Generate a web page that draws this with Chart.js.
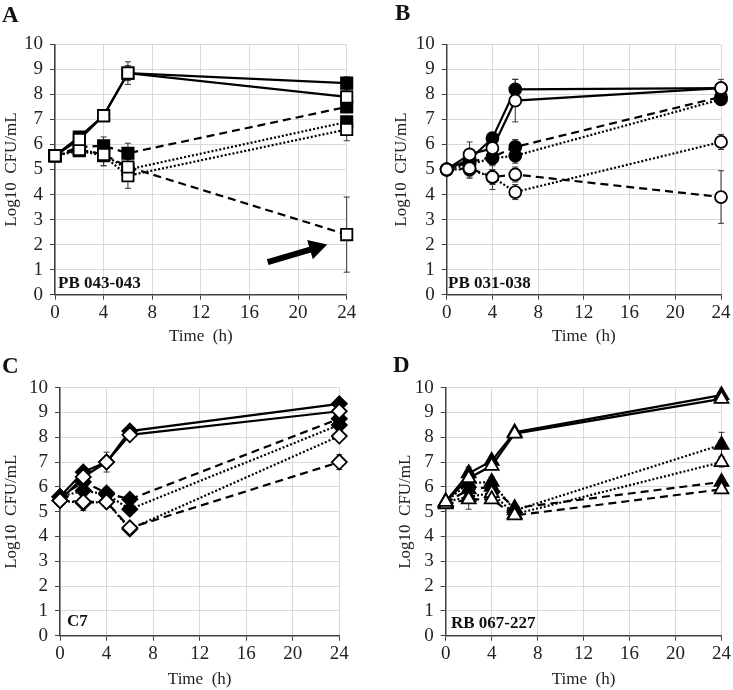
<!DOCTYPE html>
<html>
<head>
<meta charset="utf-8">
<script src="https://cdn.jsdelivr.net/npm/chart.js@4.4.1/dist/chart.umd.min.js"></script>
<style>
  body { margin: 0; background: #fff; }
  #wrap { position: relative; width: 733px; height: 690px; font-family: "Liberation Serif", serif; color: #111; }
  canvas { position: absolute; }
  .letter { position: absolute; font-weight: bold; font-size: 23px; line-height: 1; }
  .strain { position: absolute; font-weight: bold; font-size: 17px; line-height: 1; }
</style>
</head>
<body>
<div id="wrap">
  <canvas id="cA" width="366" height="350" style="left:0;top:0"></canvas>
  <canvas id="cB" width="367" height="350" style="left:366px;top:0"></canvas>
  <canvas id="cC" width="366" height="340" style="left:0;top:350px"></canvas>
  <canvas id="cD" width="367" height="340" style="left:366px;top:350px"></canvas>
  <div class="letter" style="left:2px;top:3px">A</div>
  <div class="letter" style="left:395px;top:1px">B</div>
  <div class="letter" style="left:2px;top:354px">C</div>
  <div class="letter" style="left:393px;top:353px">D</div>
  <div class="strain" style="left:58px;top:274px">PB 043-043</div>
  <div class="strain" style="left:448px;top:274px">PB 031-038</div>
  <div class="strain" style="left:67px;top:612px">C7</div>
  <div class="strain" style="left:451px;top:614px">RB 067-227</div>
</div>
<script>
// sampling times (h)
const hours = [0, 2, 4, 6, 24];
const yTitle = 'Log10  CFU/mL';
const xTitle = 'Time  (h)';

// A - PB 043-043 (squares)
const A_solidFill = [5.55, 6.3, 7.15, 8.85, 8.45];
const A_solidOpen = [5.55, 6.2, 7.15, 8.85, 7.9];
const A_dashFill  = [5.55, 5.9, 5.95, 5.65, 7.5];
const A_dashOpen  = [5.55, 5.8, 5.6, 5.1, 2.4];
const A_dotFill   = [5.55, 5.8, 5.6, 5.0, 6.9];
const A_dotOpen   = [5.55, 5.75, 5.55, 4.75, 6.6];
const A_solidFillErr = [0.1, 0.15, 0.1, 0.3, 0.25];
const A_solidOpenErr = [0.1, 0.15, 0.1, 0.45, 0.3];
const A_dashFillErr  = [0.1, 0.1, 0.35, 0.4, 0.2];
const A_dashOpenErr  = [0.1, 0.1, 0.45, 0.3, 1.5];
const A_dotFillErr   = [0.1, 0.1, 0.2, 0.3, 0.2];
const A_dotOpenErr   = [0.1, 0.1, 0.4, 0.5, 0.45];
const A_arrowFrom = [17.5, 1.3];
const A_arrowTo   = [22.4, 2.0];

// B - PB 031-038 (circles)
const B_solidFill = [5.0, 5.4, 6.25, 8.2, 8.25];
const B_solidOpen = [5.0, 5.6, 5.85, 7.75, 8.25];
const B_dashFill  = [5.0, 5.3, 5.5, 5.9, 7.9];
const B_dashOpen  = [5.0, 5.05, 4.7, 4.8, 3.9];
const B_dotFill   = [5.0, 5.2, 5.45, 5.55, 7.8];
const B_dotOpen   = [5.0, 5.0, 4.7, 4.1, 6.1];
const B_solidFillErr = [0.1, 0.2, 0.2, 0.4, 0.2];
const B_solidOpenErr = [0.1, 0.5, 0.2, 0.85, 0.35];
const B_dashFillErr  = [0.1, 0.2, 0.3, 0.3, 0.15];
const B_dashOpenErr  = [0.1, 0.4, 0.5, 0.3, 1.05];
const B_dotFillErr   = [0.1, 0.2, 0.3, 0.3, 0.15];
const B_dotOpenErr   = [0.1, 0.3, 0.3, 0.3, 0.3];

// C - C7 (diamonds)
const C_solidFill = [5.6, 6.6, 7.0, 8.25, 9.35];
const C_solidOpen = [5.45, 6.4, 7.0, 8.1, 9.05];
const C_dashFill  = [5.6, 6.2, 5.75, 5.5, 8.75];
const C_dashOpen  = [5.45, 5.4, 5.4, 4.35, 7.0];
const C_dotFill   = [5.6, 5.85, 5.7, 5.1, 8.5];
const C_dotOpen   = [5.45, 5.35, 5.4, 4.3, 8.05];
const C_solidFillErr = [0.1, 0.1, 0.1, 0.1, 0.1];
const C_solidOpenErr = [0.1, 0.2, 0.4, 0.1, 0.1];
const C_dashFillErr  = [0.1, 0.15, 0.1, 0.1, 0.1];
const C_dashOpenErr  = [0.1, 0.35, 0.1, 0.15, 0.3];
const C_dotFillErr   = [0.1, 0.15, 0.1, 0.15, 0.1];
const C_dotOpenErr   = [0.1, 0.15, 0.1, 0.15, 0.1];

// D - RB 067-227 (triangles)
const D_solidFill = [5.4, 6.55, 7.05, 8.2, 9.7];
const D_solidOpen = [5.4, 6.35, 6.85, 8.15, 9.55];
const D_dashFill  = [5.35, 5.9, 6.0, 5.15, 6.2];
const D_dashOpen  = [5.3, 5.5, 5.5, 4.85, 5.9];
const D_dotFill   = [5.4, 6.15, 6.2, 5.05, 7.7];
const D_dotOpen   = [5.4, 5.6, 5.75, 4.9, 7.0];
const D_solidFillErr = [0.15, 0.25, 0.15, 0.1, 0.1];
const D_solidOpenErr = [0.15, 0.2, 0.15, 0.1, 0.1];
const D_dashFillErr  = [0.1, 0.2, 0.15, 0.1, 0.1];
const D_dashOpenErr  = [0.15, 0.4, 0.1, 0.15, 0.15];
const D_dotFillErr   = [0.1, 0.2, 0.2, 0.2, 0.5];
const D_dotOpenErr   = [0.1, 0.2, 0.2, 0.15, 0.2];

const SERIF = '"Liberation Serif", "Times New Roman", serif';

// error bars, drawn under the markers
const errorBars = {
    id: 'errorBars',
    beforeDatasetsDraw(chart) {
        const { ctx, scales: { x, y } } = chart;
        ctx.save();
        ctx.strokeStyle = '#333';
        ctx.lineWidth = 1;
        chart.data.datasets.forEach((ds) => {
            if (!ds.errs) return;
            ds.data.forEach((p, i) => {
                const e = ds.errs[i];
                if (!e) return;
                const px = x.getPixelForValue(p.x);
                const t = y.getPixelForValue(p.y + e);
                const b = y.getPixelForValue(p.y - e);
                ctx.beginPath();
                ctx.moveTo(px, t); ctx.lineTo(px, b);
                ctx.moveTo(px - 3, t); ctx.lineTo(px + 3, t);
                ctx.moveTo(px - 3, b); ctx.lineTo(px + 3, b);
                ctx.stroke();
            });
        });
        ctx.restore();
    }
};

// the black arrow of panel A
const arrowPlugin = {
    id: 'arrowPlugin',
    afterDatasetsDraw(chart, args, opts) {
        if (!opts.from) return;
        const { ctx, scales: { x, y } } = chart;
        const x1 = x.getPixelForValue(opts.from[0]), y1 = y.getPixelForValue(opts.from[1]);
        const x2 = x.getPixelForValue(opts.to[0]), y2 = y.getPixelForValue(opts.to[1]);
        const ang = Math.atan2(y2 - y1, x2 - x1);
        const head = 18, half = 10;
        const bx = x2 - head * Math.cos(ang), by = y2 - head * Math.sin(ang);
        ctx.save();
        ctx.strokeStyle = '#000';
        ctx.fillStyle = '#000';
        ctx.lineWidth = 6;
        ctx.beginPath();
        ctx.moveTo(x1, y1); ctx.lineTo(bx + 2 * Math.cos(ang), by + 2 * Math.sin(ang));
        ctx.stroke();
        ctx.beginPath();
        ctx.moveTo(x2, y2);
        ctx.lineTo(bx + half * Math.sin(ang), by - half * Math.cos(ang));
        ctx.lineTo(bx - half * Math.sin(ang), by + half * Math.cos(ang));
        ctx.closePath();
        ctx.fill();
        ctx.restore();
    }
};

function series(values, errs, dash, filled, shape, radius) {
    return {
        data: hours.map((h, i) => ({ x: h, y: values[i] })),
        errs: errs,
        borderColor: '#000',
        borderWidth: 2.2,
        borderDash: dash,
        pointStyle: shape,
        pointRadius: radius,
        pointBorderWidth: 1.8,
        pointBorderColor: '#000',
        pointBackgroundColor: filled ? '#000' : '#fff',
        tension: 0,
        fill: false,
        clip: false
    };
}

const SOLID = [], DASH = [8, 5], DOT = [2, 2];

function makePanel(id, box, area, yPad, xPad, sets, arrow) {
    new Chart(document.getElementById(id), {
        type: 'line',
        data: { datasets: sets },
        options: {
            responsive: false,
            animation: false,
            layout: {
                padding: { left: 0, top: area.t - box.top, right: box.left + box.w - area.r, bottom: 0 }
            },
            plugins: { legend: { display: false }, tooltip: { enabled: false }, arrowPlugin: arrow || {} },
            scales: {
                x: {
                    type: 'linear', min: 0, max: 24,
                    afterFit: (s) => { s.height = box.top + box.h - area.b; },
                    ticks: { stepSize: 4, maxRotation: 0, autoSkip: false, padding: 2, color: '#222', font: { family: SERIF, size: 19 } },
                    grid: { color: '#d9d9d9', lineWidth: 1, tickLength: 5, tickColor: '#404040' },
                    border: { color: '#404040', width: 1.5 },
                    title: { display: true, text: xTitle, color: '#222', font: { family: SERIF, size: 17 }, padding: { top: 0, bottom: xPad } }
                },
                y: {
                    min: 0, max: 10,
                    afterFit: (s) => { s.width = area.l - box.left; },
                    ticks: { stepSize: 1, autoSkip: false, padding: 7, color: '#222', font: { family: SERIF, size: 19 } },
                    grid: { color: '#d9d9d9', lineWidth: 1, tickLength: 5, tickColor: '#404040' },
                    border: { color: '#404040', width: 1.5 },
                    title: { display: true, text: yTitle, color: '#222', font: { family: SERIF, size: 17 }, padding: { top: yPad, bottom: 0 } }
                }
            }
        },
        plugins: [errorBars, arrowPlugin]
    });
}

// open markers listed first so they are painted on top
makePanel('cA', { left: 0, top: 0, w: 366, h: 350 }, { l: 55, r: 346.7, t: 44.3, b: 294.7 }, 1.1, 2.8, [
    series(A_solidOpen, A_solidOpenErr, SOLID, false, 'rect', 8),
    series(A_dashOpen, A_dashOpenErr, DASH, false, 'rect', 8),
    series(A_dotOpen, A_dotOpenErr, DOT, false, 'rect', 8),
    series(A_solidFill, A_solidFillErr, SOLID, true, 'rect', 8),
    series(A_dashFill, A_dashFillErr, DASH, true, 'rect', 8),
    series(A_dotFill, A_dotFillErr, DOT, true, 'rect', 8)
], { from: A_arrowFrom, to: A_arrowTo });

makePanel('cB', { left: 366, top: 0, w: 367, h: 350 }, { l: 446.7, r: 721, t: 44.3, b: 294.7 }, 25.5, 2.8, [
    series(B_solidOpen, B_solidOpenErr, SOLID, false, 'circle', 6),
    series(B_dashOpen, B_dashOpenErr, DASH, false, 'circle', 6),
    series(B_dotOpen, B_dotOpenErr, DOT, false, 'circle', 6),
    series(B_solidFill, B_solidFillErr, SOLID, true, 'circle', 6),
    series(B_dashFill, B_dashFillErr, DASH, true, 'circle', 6),
    series(B_dotFill, B_dotFillErr, DOT, true, 'circle', 6)
]);

makePanel('cC', { left: 0, top: 350, w: 366, h: 340 }, { l: 60, r: 339.3, t: 387.7, b: 635.7 }, 1.5, 0, [
    series(C_solidOpen, C_solidOpenErr, SOLID, false, 'rectRot', 7.5),
    series(C_dashOpen, C_dashOpenErr, DASH, false, 'rectRot', 7.5),
    series(C_dotOpen, C_dotOpenErr, DOT, false, 'rectRot', 7.5),
    series(C_solidFill, C_solidFillErr, SOLID, true, 'rectRot', 7.5),
    series(C_dashFill, C_dashFillErr, DASH, true, 'rectRot', 7.5),
    series(C_dotFill, C_dotFillErr, DOT, true, 'rectRot', 7.5)
]);

makePanel('cD', { left: 366, top: 350, w: 367, h: 340 }, { l: 445.7, r: 721.7, t: 387.7, b: 635.7 }, 29.6, 0, [
    series(D_solidOpen, D_solidOpenErr, SOLID, false, 'triangle', 8),
    series(D_dashOpen, D_dashOpenErr, DASH, false, 'triangle', 8),
    series(D_dotOpen, D_dotOpenErr, DOT, false, 'triangle', 8),
    series(D_solidFill, D_solidFillErr, SOLID, true, 'triangle', 8),
    series(D_dashFill, D_dashFillErr, DASH, true, 'triangle', 8),
    series(D_dotFill, D_dotFillErr, DOT, true, 'triangle', 8)
]);
</script>
</body>
</html>
